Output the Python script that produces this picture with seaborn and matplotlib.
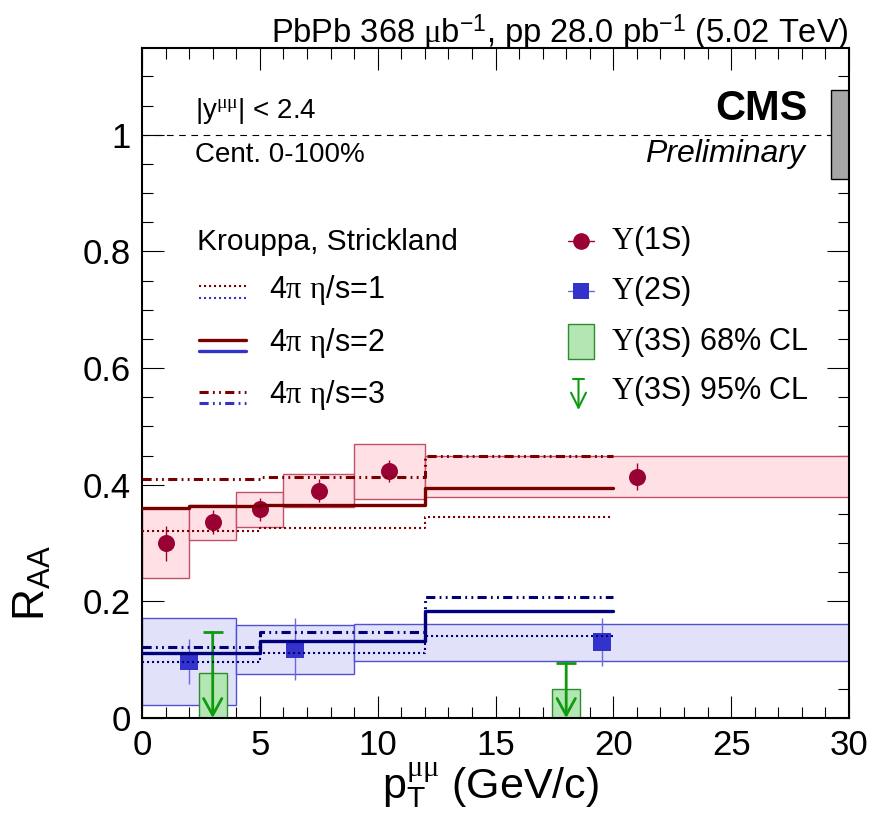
import matplotlib
matplotlib.use("Agg")
import matplotlib.pyplot as plt
from matplotlib.patches import Rectangle
from matplotlib.ticker import MultipleLocator, FuncFormatter
import numpy as np
import pandas as pd
import seaborn as sns

# ---------------- data ----------------
# Upsilon(1S): bin edges, bin centres, R_AA, stat and syst uncertainties
bins_1s = [0, 2, 4, 6, 9, 12, 30]
pt_1s = [1.0, 3.0, 5.0, 7.5, 10.5, 21.0]
raa_1s = [0.300, 0.336, 0.358, 0.390, 0.423, 0.414]
stat_1s = [0.030, 0.020, 0.020, 0.020, 0.019, 0.023]
syst_1s = [0.060, 0.030, 0.030, 0.029, 0.047, 0.035]

# Upsilon(2S)
bins_2s = [0, 4, 9, 30]
pt_2s = [2.0, 6.5, 19.5]
raa_2s = [0.097, 0.118, 0.130]
stat_2s = [0.039, 0.053, 0.041]
syst_2s = [0.075, 0.042, 0.032]

# Upsilon(3S) upper limits
pt_3s = [3.0, 18.0]
cl68_3s = [0.078, 0.050]
cl95_3s = [0.147, 0.094]

# global uncertainty on unity
global_unc = 0.076

# Krouppa-Strickland predictions (step functions, last value repeated at the end)
theory_edges = [0, 2, 5, 12, 20]
th1s_eta1 = [0.321, 0.321, 0.325, 0.345]
th1s_eta2 = [0.360, 0.363, 0.366, 0.394]
th1s_eta3 = [0.409, 0.409, 0.413, 0.449]
th2s_eta1 = [0.096, 0.096, 0.111, 0.141]
th2s_eta2 = [0.111, 0.111, 0.132, 0.184]
th2s_eta3 = [0.121, 0.121, 0.147, 0.207]

# ---------------- style ----------------
sns.set_theme(style="ticks")
plt.rcParams["font.family"] = ["Liberation Sans", "DejaVu Sans"]
plt.rcParams["text.color"] = "black"
plt.rcParams["axes.labelcolor"] = "black"
plt.rcParams["xtick.color"] = "black"
plt.rcParams["ytick.color"] = "black"
plt.rcParams["mathtext.fontset"] = "custom"
plt.rcParams["mathtext.rm"] = "Liberation Serif"
plt.rcParams["mathtext.it"] = "Liberation Serif:italic"
plt.rcParams["mathtext.bf"] = "Liberation Serif:bold"
plt.rcParams["mathtext.sf"] = "Liberation Sans"
plt.rcParams["mathtext.fallback"] = "stix"

C1S = "#990033"
C1S_FILL = "#ffe1e5"
C1S_EDGE = "#c0506c"
C2S = "#3333cc"
C2S_FILL = "#e1e1fa"
C2S_EDGE = "#5050d0"
C3S_FILL = "#b3e6b3"
C3S_EDGE = "#2e8b2e"
C3S = "#0f9a0f"
RED_TH = "#7a0000"
BLUE_TH = "#00007a"
BLUE_LEG = "#3333cc"

DOT = (0, (1.0, 1.4))
DASHDOT = (0, (3.0, 1.4, 0.6, 1.4, 0.6, 1.4))

fig = plt.figure(figsize=(8.73, 8.18), dpi=100)
ax = fig.add_axes([142 / 873, 100 / 818, 707 / 873, 670 / 818])
ax.set_xlim(0, 30)
ax.set_ylim(0, 1.1486)

# ---------------- systematic boxes ----------------
for lo, hi, v, s in zip(bins_1s[:-1], bins_1s[1:], raa_1s, syst_1s):
    ax.add_patch(Rectangle((lo, v - s), hi - lo, 2 * s, facecolor=C1S_FILL,
                           edgecolor=C1S_EDGE, lw=1.0, zorder=1))
for lo, hi, v, s in zip(bins_2s[:-1], bins_2s[1:], raa_2s, syst_2s):
    ax.add_patch(Rectangle((lo, v - s), hi - lo, 2 * s, facecolor=C2S_FILL,
                           edgecolor=C2S_EDGE, lw=1.0, zorder=1))
for x, top in zip(pt_3s, cl68_3s):
    ax.add_patch(Rectangle((x - 0.6, 0), 1.2, top, facecolor=C3S_FILL,
                           edgecolor=C3S_EDGE, lw=1.0, zorder=1.5))

# unity line and global uncertainty
ax.axhline(1.0, color="black", lw=0.8, ls=(0, (6, 5)), zorder=1)
ax.add_patch(Rectangle((29.22, 1 - global_unc), 0.78, 2 * global_unc,
                       facecolor="#a6a6a6", edgecolor="black", lw=1.0, zorder=2))

# ---------------- data points ----------------
ax.errorbar(pt_1s, raa_1s, yerr=stat_1s, fmt="none", ecolor=C1S, elinewidth=1.0,
            capsize=0, zorder=3)
ax.errorbar(pt_2s, raa_2s, yerr=stat_2s, fmt="none", ecolor="#6a6ae0", elinewidth=1.0,
            capsize=0, zorder=3)
sns.scatterplot(x=pt_1s, y=raa_1s, ax=ax, marker="o", s=150, color=C1S,
                linewidth=0, zorder=4)
sns.scatterplot(x=pt_2s, y=raa_2s, ax=ax, marker="s", s=150, color=C2S,
                linewidth=0, zorder=4)

# 3S 95% CL upper limits
for x, top in zip(pt_3s, cl95_3s):
    ax.plot([x - 0.42, x + 0.42], [top, top], color=C3S, lw=2.0, zorder=4,
            solid_capstyle="butt")
    ax.annotate("", xy=(x, 0.0), xytext=(x, top),
                arrowprops=dict(arrowstyle="->,head_length=0.6,head_width=0.33",
                                color=C3S, lw=2.0, shrinkA=0, shrinkB=0,
                                mutation_scale=20),
                zorder=4)

# ---------------- model curves ----------------
curves = [
    (th1s_eta1, RED_TH, DOT, 1.5),
    (th1s_eta2, RED_TH, "-", 2.4),
    (th1s_eta3, RED_TH, DASHDOT, 2.2),
    (th2s_eta1, BLUE_TH, DOT, 1.5),
    (th2s_eta2, BLUE_TH, "-", 2.4),
    (th2s_eta3, BLUE_TH, DASHDOT, 2.2),
]
for vals, col, ls, lw in curves:
    df = pd.DataFrame({"pt": theory_edges, "raa": vals + [vals[-1]]})
    sns.lineplot(data=df, x="pt", y="raa", ax=ax, color=col, linestyle=ls, lw=lw,
                 drawstyle="steps-post", estimator=None, sort=False, legend=False,
                 zorder=5)

# ---------------- axes ----------------
ax.xaxis.set_major_locator(MultipleLocator(5))
ax.xaxis.set_minor_locator(MultipleLocator(1))
ax.yaxis.set_major_locator(MultipleLocator(0.2))
ax.yaxis.set_minor_locator(MultipleLocator(0.05))
ax.yaxis.set_major_formatter(FuncFormatter(
    lambda v, p: "0" if abs(v) < 1e-9 else ("1" if abs(v - 1) < 1e-9 else f"{v:.1f}")))
ax.tick_params(which="both", direction="in", top=True, right=True, color="black",
               width=0.8, labelsize=25, labelcolor="black")
ax.tick_params(which="major", length=16)
ax.tick_params(which="minor", length=8)
ax.tick_params(axis="x", which="major", pad=8)
ax.tick_params(axis="y", which="major", pad=8)
for sp in ax.spines.values():
    sp.set_visible(True)
    sp.set_linewidth(1.5)
    sp.set_color("black")
ax.set_xlabel("")
ax.set_ylabel("")

fig.text(32 / 873, 1 - 583 / 818, r"R$_{\mathsf{AA}}$", rotation=90, fontsize=32,
         ha="center", va="center", color="black")
fig.text(490 / 873, 1 - 786 / 818, r"p$_{\mathsf{T}}^{\mathrm{\mu\mu}}$ (GeV/c)",
         fontsize=31, ha="center", va="center", color="black")
fig.text(849 / 873, 1 - 33 / 818,
         r"PbPb 368 $\mathrm{\mu}$b$^{\mathsf{-1}}$, pp 28.0 pb$^{\mathsf{-1}}$ (5.02 TeV)",
         fontsize=23.5, ha="right", va="center", color="black")

T = ax.transAxes
ax.text(0.075, 0.8955, r"|y$^{\mathrm{\mu\mu}}$| < 2.4", transform=T, fontsize=20,
        ha="left", va="baseline", color="black")
ax.text(0.075, 0.830, "Cent. 0-100%", transform=T, fontsize=20, ha="left",
        va="baseline", color="black")
ax.text(0.942, 0.8925, "CMS", transform=T, fontsize=30, fontweight="bold",
        ha="right", va="baseline", color="black")
ax.text(0.938, 0.830, "Preliminary", transform=T, fontsize=23, style="italic",
        ha="right", va="baseline", color="black")

# ---------------- legends ----------------
def fx(px):
    return (px - 142) / 707


def fy(py):
    return (718 - py) / 670


ax.text(fx(197), fy(241.5), "Krouppa, Strickland", transform=T, fontsize=21.5,
        ha="left", va="center", color="black")
leg_rows = [(286, 298, DOT, 1.5, 1), (339.5, 350.5, "-", 2.4, 2),
            (391.5, 403, DASHDOT, 2.2, 3)]
for yr, yb, ls, lw, k in leg_rows:
    ax.plot([fx(199), fx(246)], [fy(yr), fy(yr)], transform=T, color=RED_TH, ls=ls,
            lw=lw, clip_on=False, zorder=6)
    ax.plot([fx(199), fx(246)], [fy(yb), fy(yb)], transform=T, color=BLUE_LEG, ls=ls,
            lw=lw, clip_on=False, zorder=6)
    ax.text(fx(269), fy((yr + yb) / 2 - 2), rf"4$\mathrm{{\pi}}$ $\mathrm{{\eta}}$/s={k}",
            transform=T, fontsize=22, ha="left", va="center", color="black")

# right legend
ax.plot([fx(568), fx(594)], [fy(241), fy(241)], transform=T, color=C1S, lw=1.0)
ax.plot([fx(581)], [fy(241)], transform=T, marker="o", ms=12, color=C1S, mew=0)
ax.plot([fx(568), fx(594)], [fy(291), fy(291)], transform=T, color="#6a6ae0", lw=1.0)
ax.plot([fx(581)], [fy(291)], transform=T, marker="s", ms=12, color=C2S, mew=0)
ax.add_patch(Rectangle((fx(568), fy(359)), fx(594) - fx(568), fy(324) - fy(359),
                       transform=T, facecolor=C3S_FILL, edgecolor=C3S_EDGE, lw=1.0))
ax.plot([fx(573), fx(584)], [fy(379), fy(379)], transform=T, color=C3S, lw=1.5)
ax.annotate("", xy=(fx(578.5), fy(410)), xytext=(fx(578.5), fy(379)), xycoords=T,
            textcoords=T,
            arrowprops=dict(arrowstyle="->,head_length=0.6,head_width=0.3", color=C3S,
                            lw=1.5, shrinkA=0, shrinkB=0, mutation_scale=18))
leg_labels = [(241, r"$\Upsilon$(1S)"), (291, r"$\Upsilon$(2S)"),
              (341.5, r"$\Upsilon$(3S) 68% CL"), (391.5, r"$\Upsilon$(3S) 95% CL")]
for py, lab in leg_labels:
    ax.text(fx(611), fy(py), lab, transform=T, fontsize=22, ha="left", va="center",
            color="black")

fig.savefig("out.png", dpi=100)
